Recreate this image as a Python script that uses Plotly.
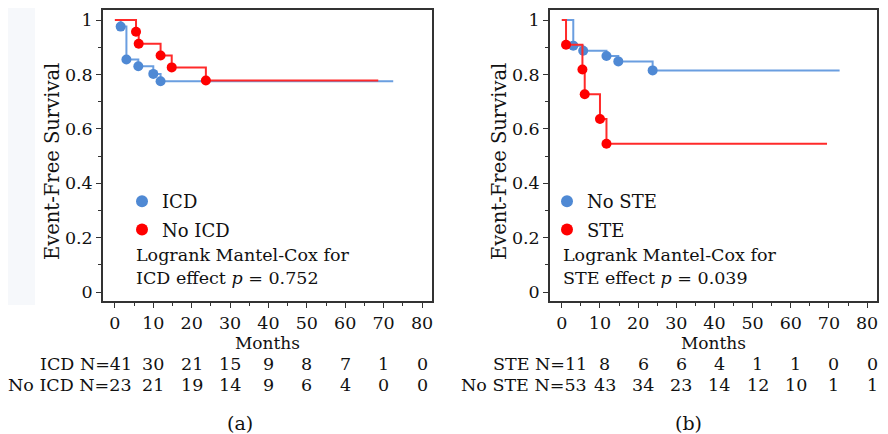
import plotly.graph_objects as go

# ---------------- data ----------------
tick_months = [0, 10, 20, 30, 40, 50, 60, 70, 80]
y_ticks = [0, 0.2, 0.4, 0.6, 0.8, 1.0]
y_tick_labels = ["0", "0.2", "0.4", "0.6", "0.8", "1"]

# Panel (a): ICD vs No ICD
icd_event_t = [1.5, 3.0, 6.1, 10.0, 11.9]
icd_event_s = [0.976, 0.855, 0.830, 0.802, 0.775]
icd_last_t = 72.5
noicd_event_t = [5.5, 6.2, 11.9, 14.8, 23.7]
noicd_event_s = [0.957, 0.913, 0.870, 0.826, 0.778]
noicd_last_t = 68.6

# Panel (b): No STE vs STE
noste_event_t = [3.0, 5.6, 11.7, 14.8, 23.8]
noste_event_s = [0.906, 0.887, 0.868, 0.848, 0.815]
noste_last_t = 72.8
ste_event_t = [1.1, 5.4, 6.0, 10.0, 11.7]
ste_event_s = [0.909, 0.818, 0.727, 0.636, 0.545]
ste_last_t = 69.5

# number at risk
risk_months = [0, 10, 20, 30, 40, 50, 60, 70, 80]
icd_risk = [41, 30, 21, 15, 9, 8, 7, 1, 0]
noicd_risk = [23, 21, 19, 14, 9, 6, 4, 0, 0]
ste_risk = [11, 8, 6, 6, 4, 1, 1, 0, 0]
noste_risk = [53, 43, 34, 23, 14, 12, 10, 1, 1]

# ---------------- style ----------------
FONT = "DejaVu Serif"
TXT = "#111"
BLUE_DOT = "#4f89d4"
BLUE_LINE = "#6a9ee0"
RED_DOT = "#ff0000"
RED_LINE = "#ff2a2a"

OFF = 8                      # page body margin of the browser
W, H = 888 - OFF, 434 - OFF  # figure size
PT, PB = 10 - OFF, 301 - OFF  # plot area top / bottom in figure px


def px(p):                   # reference x pixel -> paper
    return (p - OFF) / W


def py(p):                   # reference y pixel -> paper
    return (PB - (p - OFF)) / (PB - PT)


fig = go.Figure()


def km(xa, ya, t, s, last, color_line, color_dot, name, legend):
    xs = [0] + list(t) + [last]
    ys = [1.0] + list(s) + [s[-1]]
    fig.add_trace(go.Scatter(x=xs, y=ys, mode="lines", line=dict(color=color_line, width=2, shape="hv"),
                             xaxis=xa, yaxis=ya, showlegend=False, hoverinfo="skip"))
    fig.add_trace(go.Scatter(x=t, y=s, mode="markers", marker=dict(color=color_dot, size=10),
                             xaxis=xa, yaxis=ya, name=name, legend=legend, legendgroup=name))


km("x", "y", icd_event_t, icd_event_s, icd_last_t, BLUE_LINE, BLUE_DOT, "ICD", "legend")
km("x", "y", noicd_event_t, noicd_event_s, noicd_last_t, RED_LINE, RED_DOT, "No ICD", "legend")
km("x2", "y2", noste_event_t, noste_event_s, noste_last_t, BLUE_LINE, BLUE_DOT, "No STE", "legend2")
km("x2", "y2", ste_event_t, ste_event_s, ste_last_t, RED_LINE, RED_DOT, "STE", "legend2")

axis_common = dict(showline=True, linecolor="#333", linewidth=1.5, mirror=True, ticks="outside",
                   ticklen=5, tickwidth=1.2, tickcolor="#333", showgrid=False, zeroline=False,
                   tickfont=dict(family=FONT, size=17.5, color=TXT))

xcommon = dict(axis_common, range=[-3.1, 82.6], tickvals=tick_months,
               minor=dict(dtick=5, tick0=0, ticks="outside", ticklen=3, tickcolor="#333", showgrid=False),
               title=dict(text="Months", font=dict(family=FONT, size=17, color=TXT), standoff=2))
ycommon = dict(axis_common, range=[-0.033, 1.037], tickvals=y_ticks, ticktext=y_tick_labels,
               minor=dict(dtick=0.1, tick0=0, ticks="outside", ticklen=3, tickcolor="#333", showgrid=False))

fig.update_layout(
    xaxis=dict(xcommon, domain=[px(103), px(432)], anchor="y"),
    yaxis=dict(ycommon, domain=[0, 1], anchor="x"),
    xaxis2=dict(xcommon, domain=[px(550), px(877)], anchor="y2"),
    yaxis2=dict(ycommon, domain=[0, 1], anchor="x2"),
)

legend_common = dict(font=dict(family=FONT, size=18, color=TXT), bgcolor="rgba(0,0,0,0)",
                     itemsizing="constant", tracegroupgap=2, xanchor="left", yanchor="top",
                     indentation=0)
fig.update_layout(
    legend=dict(legend_common, x=px(122), y=py(183)),
    legend2=dict(legend_common, x=px(547), y=py(183)),
)

ann = []
# y-axis titles
for xp in (53, 500):
    ann.append(dict(text="Event-Free Survival", x=px(xp), y=py(162), xref="paper", yref="paper",
                    textangle=-90, xanchor="center", yanchor="middle", showarrow=False,
                    font=dict(family=FONT, size=19.5, color=TXT)))
# log-rank texts
ann.append(dict(text="Logrank Mantel-Cox for<br>ICD effect <i>p</i> = 0.752", x=px(134), y=py(266),
                xref="paper", yref="paper", xanchor="left", yanchor="middle", align="left", showarrow=False,
                font=dict(family=FONT, size=17.5, color=TXT)))
ann.append(dict(text="Logrank Mantel-Cox for<br>STE effect <i>p</i> = 0.039", x=px(561), y=py(266),
                xref="paper", yref="paper", xanchor="left", yanchor="middle", align="left", showarrow=False,
                font=dict(family=FONT, size=17.5, color=TXT)))


def risk_row(xref, label, months, counts, ypix, label_px, xshift):
    ann.append(dict(text=label + " N=" + str(counts[0]), x=px(label_px), y=py(ypix), xref="paper", yref="paper",
                    xanchor="right", yanchor="middle", showarrow=False,
                    font=dict(family=FONT, size=17.5, color=TXT)))
    for m, c in zip(months[1:], counts[1:]):
        ann.append(dict(text=str(c), x=m, y=py(ypix), xref=xref, yref="paper", xanchor="center",
                        yanchor="middle", showarrow=False, xshift=xshift,
                        font=dict(family=FONT, size=17.5, color=TXT)))


risk_row("x", "ICD", risk_months, icd_risk, 364, 134, 0)
risk_row("x", "No ICD", risk_months, noicd_risk, 385, 134, 0)
risk_row("x2", "STE", risk_months, ste_risk, 364, 589, 5)
risk_row("x2", "No STE", risk_months, noste_risk, 385, 589, 5)

ann.append(dict(text="(a)", x=px(240), y=py(423), xref="paper", yref="paper", showarrow=False,
                xanchor="center", yanchor="middle", font=dict(family=FONT, size=19, color=TXT)))
ann.append(dict(text="(b)", x=px(688), y=py(423), xref="paper", yref="paper", showarrow=False,
                xanchor="center", yanchor="middle", font=dict(family=FONT, size=19, color=TXT)))

fig.update_layout(
    annotations=ann,
    shapes=[dict(type="rect", xref="paper", yref="paper", x0=0, x1=px(35), y0=py(305), y1=1.2,
                 fillcolor="#f6f8fb", line=dict(width=0), layer="below")],
    width=W, height=H,
    margin=dict(l=0, r=0, t=PT, b=H - PB),
    paper_bgcolor="white", plot_bgcolor="white",
    font=dict(family=FONT, color=TXT),
)

fig.write_html("out.html")
